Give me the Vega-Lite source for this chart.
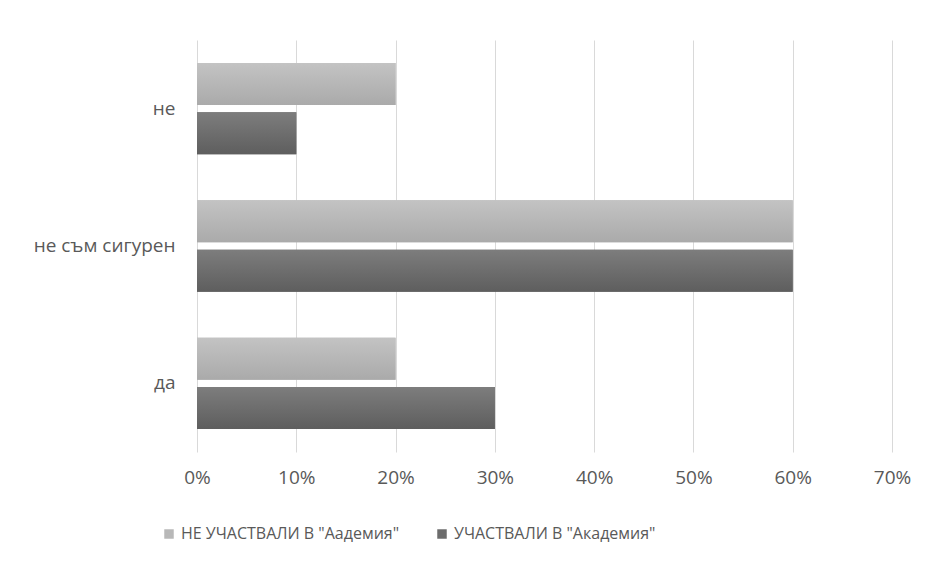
{
  "$schema": "https://vega.github.io/schema/vega-lite/v6.json",
  "width": 695,
  "height": 412,
  "autosize": {"type": "none"},
  "padding": {"left": 197, "top": 40, "right": 38, "bottom": 114},
  "background": "white",
  "config": {
    "view": {"stroke": null},
    "font": "Open Sans",
    "axis": {"labelColor": "#595959", "labelFontSize": 19, "labelFont": "Open Sans", "labelLimit": 300},
    "legend": {"labelColor": "#595959", "labelFontSize": 16, "labelFont": "Open Sans", "labelLimit": 400}
  },
  "data": {
    "values": [
      {"answer": "не ", "series": "НЕ УЧАСТВАЛИ В \"Аадемия\"", "value": 0.2},
      {"answer": "не ", "series": "УЧАСТВАЛИ В \"Академия\"", "value": 0.1},
      {"answer": "не съм сигурен", "series": "НЕ УЧАСТВАЛИ В \"Аадемия\"", "value": 0.6},
      {"answer": "не съм сигурен", "series": "УЧАСТВАЛИ В \"Академия\"", "value": 0.6},
      {"answer": "да", "series": "НЕ УЧАСТВАЛИ В \"Аадемия\"", "value": 0.2},
      {"answer": "да", "series": "УЧАСТВАЛИ В \"Академия\"", "value": 0.3}
    ]
  },
  "encoding": {
    "y": {
      "field": "answer", "type": "nominal",
      "sort": ["не ", "не съм сигурен", "да"],
      "scale": {"paddingInner": 0.335, "paddingOuter": 0.1675},
      "axis": {"title": null, "domain": false, "ticks": false, "labelPadding": 22}
    },
    "yOffset": {
      "field": "series", "type": "nominal",
      "sort": ["НЕ УЧАСТВАЛИ В \"Аадемия\"", "УЧАСТВАЛИ В \"Академия\""],
      "scale": {"paddingInner": 0.15}
    },
    "x": {
      "field": "value", "type": "quantitative",
      "scale": {"domain": [0, 0.7], "nice": false},
      "axis": {
        "title": null, "format": ".0%", "values": [0, 0.1, 0.2, 0.3, 0.4, 0.5, 0.6, 0.7],
        "domain": false, "ticks": false, "grid": true, "gridColor": "#d9d9d9", "gridWidth": 1,
        "labelPadding": 16, "labelFlush": false, "labelOverlap": false
      }
    }
  },
  "layer": [
    {
      "mark": {"type": "bar"},
      "encoding": {
        "color": {
          "field": "series", "type": "nominal",
          "sort": ["НЕ УЧАСТВАЛИ В \"Аадемия\"", "УЧАСТВАЛИ В \"Академия\""],
          "scale": {"range": ["#b8b8b8", "#6c6c6c"]},
          "legend": {
            "title": null, "orient": "none", "legendX": -36, "legendY": 486,
            "direction": "horizontal", "columns": 2, "columnPadding": 34,
            "symbolType": "square", "symbolSize": 90, "symbolStrokeWidth": 0, "labelOffset": 4
          }
        }
      }
    },
    {
      "mark": {"type": "bar"},
      "encoding": {
        "fill": {
          "condition": {
            "test": "datum.series === 'НЕ УЧАСТВАЛИ В \"Аадемия\"'",
            "value": {"gradient": "linear", "x1": 0, "y1": 0, "x2": 0, "y2": 1,
              "stops": [{"offset": 0, "color": "#c3c3c3"}, {"offset": 1, "color": "#aaaaaa"}]}
          },
          "value": {"gradient": "linear", "x1": 0, "y1": 0, "x2": 0, "y2": 1,
            "stops": [{"offset": 0, "color": "#7d7d7d"}, {"offset": 1, "color": "#5e5e5e"}]}
        }
      }
    }
  ]
}
